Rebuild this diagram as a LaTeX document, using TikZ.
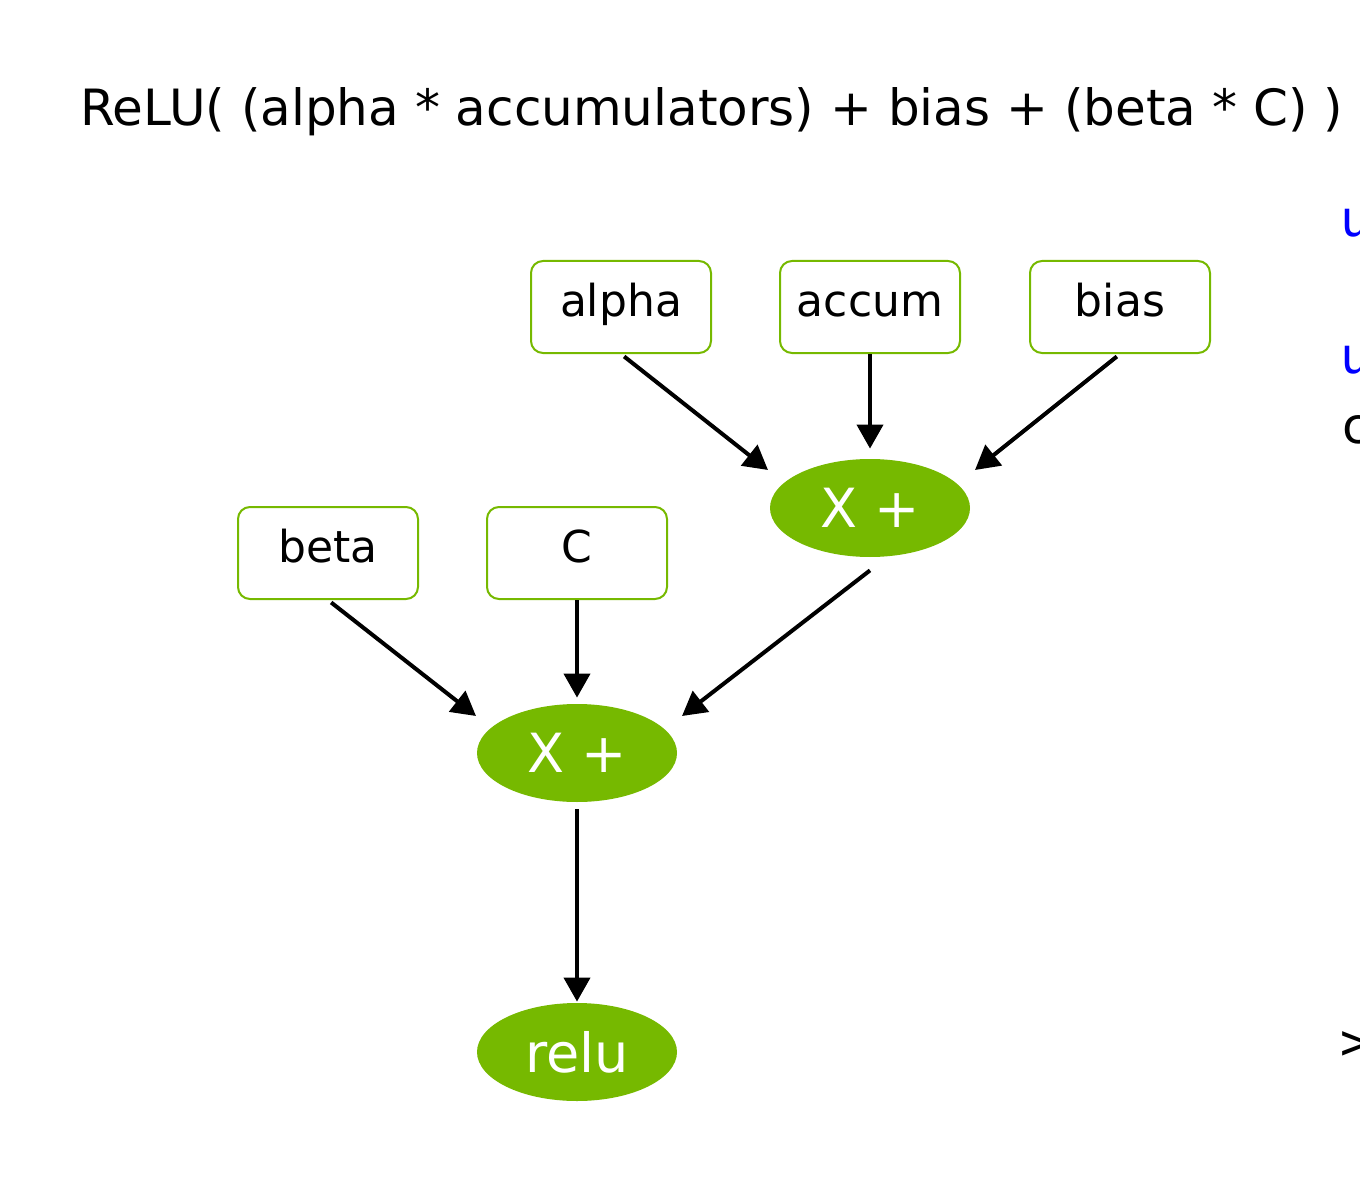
\documentclass[tikz,border=0pt]{standalone}
\usepackage{fontspec}
\setmainfont{DejaVu Sans}
\newfontfamily\codefont{DejaVu Sans Mono}
\usetikzlibrary{arrows.meta,shapes.geometric}
\definecolor{nvgreen}{HTML}{76B900}
\definecolor{codeblue}{HTML}{0000FF}
\tikzset{
  input/.style={draw=nvgreen,line width=1pt,rounded corners=6pt,minimum width=90pt,minimum height=46pt,inner sep=0pt,text height=0.95em,text depth=0pt,font=\fontsize{22}{26}\selectfont},
  op/.style={ellipse,fill=nvgreen,text=white,minimum width=100pt,minimum height=49pt,inner sep=0pt,font=\fontsize{27}{32}\selectfont},
  flow/.style={-{Triangle[length=12pt,width=13pt]},line width=2pt},
  code/.style={anchor=base west,inner sep=0pt,font=\codefont\fontsize{25}{30}\selectfont},
}
\begin{document}
\begin{tikzpicture}[x=0.5pt,y=-0.5pt]
  \useasboundingbox (0,0) rectangle (1360,1198);

  % Draw the formula
  \node[anchor=base west,inner sep=0pt,font=\fontsize{25}{30}\selectfont] (title) at (80,126) {ReLU( (alpha * accumulators) + bias + (beta * C) )};

  % Draw the inputs
  \node[input] (alpha) at (621,307) {alpha};
  \node[input] (accum) at (870,307) {accum};
  \node[input] (bias) at (1120,307) {bias};
  \node[input] (beta) at (328,553) {beta};
  \node[input] (C) at (577,553) {C};

  % Draw the operations
  \node[op] (mul1) at (870,508) {X +};
  \node[op] (mul2) at (577,753) {X +};
  \node[op] (relu) at (577,1052) {relu};

  % Draw the edges
  \draw[flow,shorten <=2pt] (alpha.south) -- ([shift={(-102,-38)}]mul1.center);
  \draw[flow,shorten >=5pt] (accum.south) -- (mul1.north);
  \draw[flow,shorten <=2pt] (bias.south) -- ([shift={(105,-38)}]mul1.center);
  \draw[flow,shorten <=2pt] (beta.south) -- ([shift={(-101,-37)}]mul2.center);
  \draw[flow,shorten >=3pt] (C.south) -- (mul2.north);
  \draw[flow] ([yshift=-6.5pt]mul1.south) -- ([shift={(105,-37)}]mul2.center);
  \draw[flow,shorten <=3.5pt,shorten >=0.5pt] (mul2.south) -- (relu.north);

  % Draw the code at the right edge
  \node[code,text=codeblue] (code1) at (1340,237) {u};
  \node[code,text=codeblue] (code2) at (1340,373) {u};
  \node[code] (code3) at (1340,443) {c};
  \node[code] (code4) at (1340,1059) {>};
\end{tikzpicture}
\end{document}
